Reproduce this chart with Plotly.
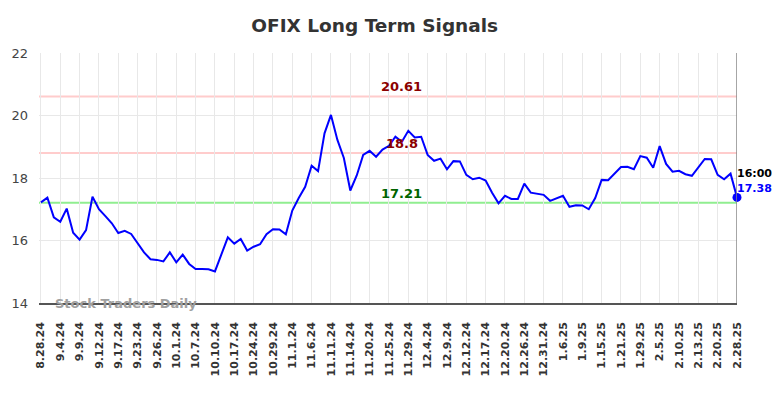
import plotly.graph_objects as go

tick_labels = ["8.28.24", "9.4.24", "9.9.24", "9.12.24", "9.17.24", "9.23.24", "9.26.24",
               "10.1.24", "10.7.24", "10.10.24", "10.17.24", "10.24.24", "10.29.24",
               "11.1.24", "11.6.24", "11.11.24", "11.14.24", "11.20.24", "11.25.24",
               "11.29.24", "12.4.24", "12.9.24", "12.12.24", "12.17.24", "12.20.24",
               "12.26.24", "12.31.24", "1.6.25", "1.9.25", "1.15.25", "1.21.25",
               "1.29.25", "2.5.25", "2.10.25", "2.13.25", "2.20.25", "2.28.25"]

prices = [17.22, 17.37, 16.74, 16.60, 17.02, 16.25, 16.03, 16.33, 17.40, 17.00,
          16.78, 16.55, 16.24, 16.31, 16.21, 15.92, 15.62, 15.40, 15.38, 15.33,
          15.62, 15.30, 15.55, 15.25, 15.09, 15.09, 15.08, 15.01, 15.58, 16.10,
          15.90, 16.05, 15.68, 15.80, 15.88, 16.20, 16.36, 16.35, 16.20, 16.96,
          17.36, 17.72, 18.39, 18.22, 19.43, 20.02, 19.22, 18.64, 17.60, 18.08,
          18.74, 18.87, 18.68, 18.91, 19.03, 19.32, 19.16, 19.51, 19.30, 19.32,
          18.74, 18.55, 18.62, 18.28, 18.54, 18.53, 18.10, 17.96, 18.01, 17.92,
          17.53, 17.19, 17.43, 17.33, 17.33, 17.82, 17.53, 17.50, 17.46, 17.27,
          17.36, 17.43, 17.08, 17.13, 17.12, 17.00, 17.36, 17.94, 17.93, 18.14,
          18.35, 18.36, 18.28, 18.70, 18.65, 18.33, 19.02, 18.45, 18.20, 18.23,
          18.12, 18.07, 18.33, 18.61, 18.60, 18.10, 17.96, 18.14, 17.38]

resistance_high = 20.61
resistance_low = 18.8
support = 17.21
last_time = "16:00"
last_price = 17.38

x = list(range(len(prices)))
tick_step = 3
tickvals = x[::tick_step]

FONT = "DejaVu Sans"

fig = go.Figure()
fig.add_trace(go.Scatter(x=x, y=prices, mode="lines",
                         line=dict(color="#0000ff", width=2), hoverinfo="skip"))
fig.add_trace(go.Scatter(x=[x[-1]], y=[last_price], mode="markers", cliponaxis=False,
                         marker=dict(color="#0000ff", size=9), hoverinfo="skip"))

for val, col in [(resistance_high, "#ffcccc"), (resistance_low, "#ffcccc"), (support, "#90ee90")]:
    fig.add_shape(type="line", xref="paper", x0=0, x1=1, yref="y", y0=val, y1=val,
                  line=dict(color=col, width=2), layer="below")

fig.add_shape(type="line", xref="x", x0=x[-1], x1=x[-1], yref="paper", y0=0, y1=1,
              line=dict(color="#888888", width=1.5))

mid = 56
for val, col in [(resistance_high, "#8b0000"), (resistance_low, "#8b0000"), (support, "#006400")]:
    fig.add_annotation(x=mid, y=val, text=f"<b>{val:g}</b>", showarrow=False,
                       yanchor="bottom", xanchor="center", yshift=0,
                       font=dict(family=FONT, size=13, color=col))

fig.add_annotation(x=x[-1], y=18.13, text=f"<b>{last_time}</b>", showarrow=False,
                   xanchor="left", yanchor="middle", xshift=-2,
                   font=dict(family=FONT, size=11, color="#000000"))
fig.add_annotation(x=x[-1], y=17.68, text=f"<b>{last_price}</b>", showarrow=False,
                   xanchor="left", yanchor="middle", xshift=-2,
                   font=dict(family=FONT, size=11, color="#0000ff"))

fig.add_annotation(xref="paper", yref="y", x=0.02, y=14.0, text="<b>Stock Traders Daily</b>",
                   showarrow=False, xanchor="left", yanchor="middle",
                   font=dict(family=FONT, size=13, color="#a0a0a0"))

fig.update_layout(
    width=784, height=398,
    margin=dict(l=39, r=47, t=53, b=95),
    paper_bgcolor="white", plot_bgcolor="white",
    showlegend=False,
    title=dict(text="<b>OFIX Long Term Signals</b>", xref="container", x=0.478, xanchor="center",
               y=0.935, yanchor="middle",
               font=dict(family=FONT, size=18.5, color="#333333")),
    xaxis=dict(range=[-0.3, x[-1]], tickmode="array", tickvals=tickvals,
               ticktext=[f"<b>{t}</b>" for t in tick_labels], tickangle=-90,
               tickfont=dict(family=FONT, size=11, color="#333333"),
               showgrid=True, gridcolor="#e8e8e8", gridwidth=1,
               showline=True, linecolor="#555555", linewidth=1.5,
               ticks="", ticklabelstandoff=13, zeroline=False),
    yaxis=dict(range=[14, 22], tickvals=[14, 16, 18, 20, 22],
               tickfont=dict(family=FONT, size=13, color="#444444"),
               showgrid=True, gridcolor="#e8e8e8", gridwidth=1,
               showline=False, ticks="", ticklabelstandoff=10, zeroline=False),
)

fig.write_html("out.html")
